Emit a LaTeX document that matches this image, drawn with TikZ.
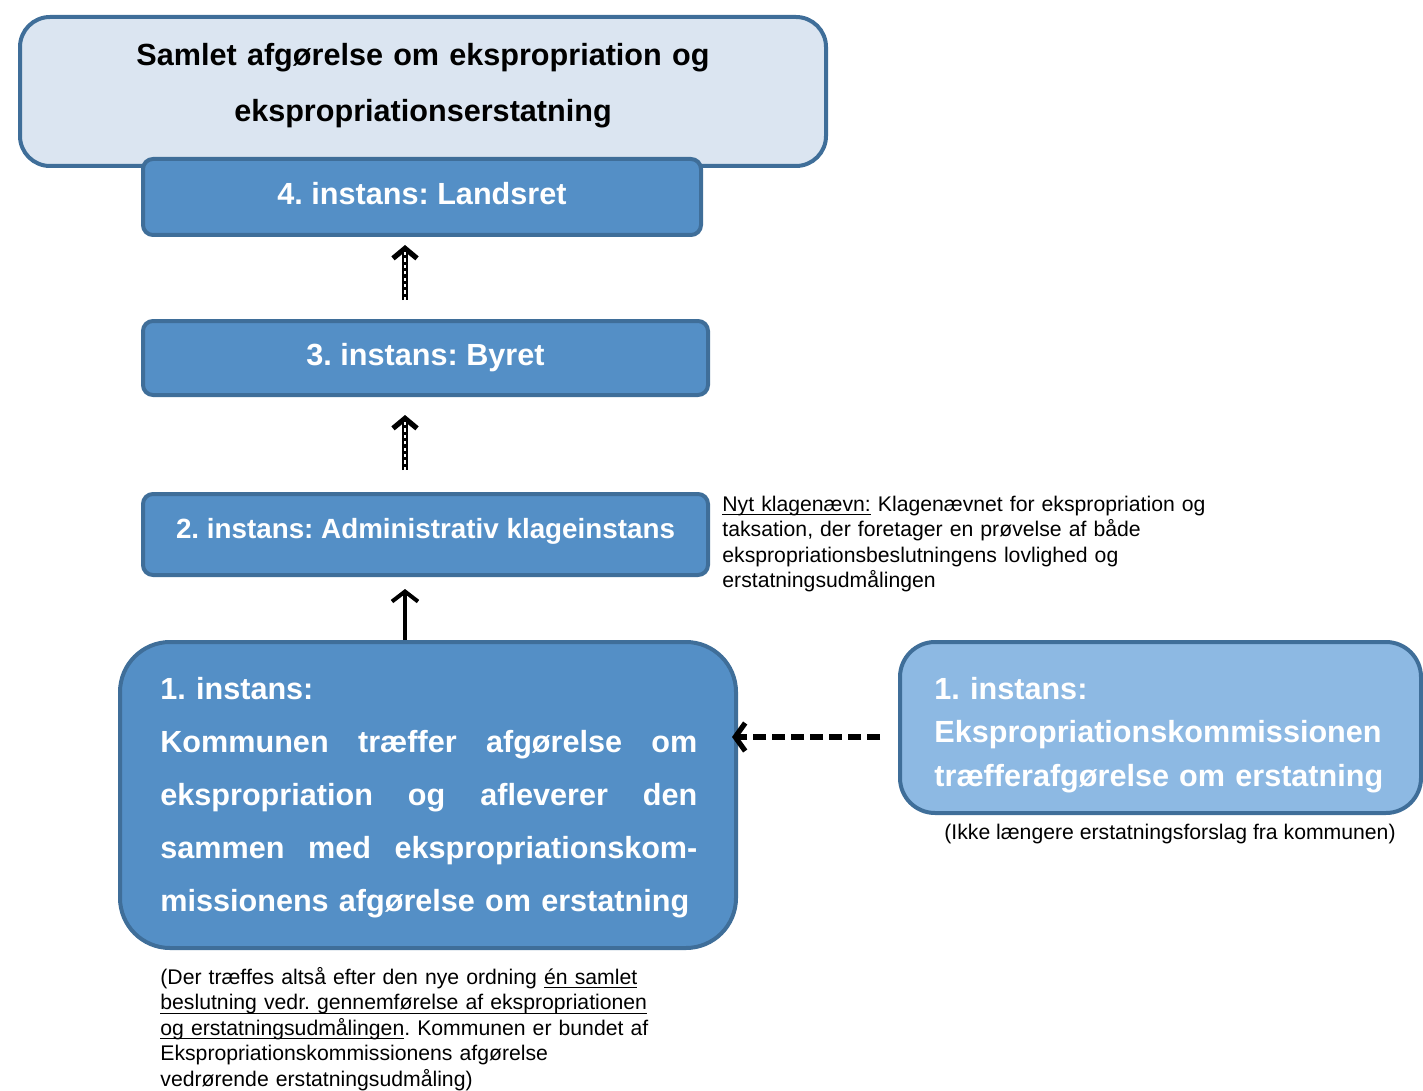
\documentclass[tikz,border=0pt]{standalone}
\usepackage{fontspec}
\setmainfont{Liberation Sans}
\frenchspacing
\usetikzlibrary{arrows.meta}
\definecolor{lightfill}{RGB}{219,229,241}
\definecolor{boxfill}{RGB}{84,143,198}
\definecolor{palefill}{RGB}{141,185,227}
\definecolor{boxline}{RGB}{63,110,153}
\newcommand\strek[1]{\leavevmode\setbox0\hbox{#1}\rlap{\rule[-2.2pt]{\wd0}{0.55pt}}\box0\relax}
\newcommand\fuldlinje[1]{\makebox[268.5pt][s]{\spaceskip=0.28em plus 1fil\relax #1}}
\tikzset{
  instbox/.style={draw=boxline, line width=2pt, fill=boxfill, rounded corners=5pt,
    text=white, font=\bfseries\fontsize{15.3}{18}\selectfont\frenchspacing},
  bigtext/.style={text width=#1, align=left, inner sep=0pt, anchor=base west},
  notetext/.style={bigtext=260pt, font=\fontsize{10.6}{12.75}\selectfont\frenchspacing},
  upto/.style={-{Straight Barb[length=5pt,width=13pt]}, line width=2pt},
  hollowup/.style={-{Straight Barb[length=5pt,width=12pt]}, line width=2.6pt},
  hollowdash/.style={white, line width=1.3pt, dash pattern=on 1.6pt off 1.6pt}
}
\begin{document}
\begin{tikzpicture}[x=0.5pt,y=-0.5pt]
  \useasboundingbox (0,0) rectangle (1423,1091);
  \path
    (423,91.5) node[instbox, fill=lightfill, rounded corners=15pt,
      minimum width=403pt, minimum height=74.5pt] (samlet) {}
    (422,197) node[instbox, text depth=4pt, minimum width=279pt, minimum height=38pt] (landsret) {4. instans: Landsret}
    (425.5,358) node[instbox, minimum width=282.5pt, minimum height=37pt] (byret) {3. instans: Byret}
    (425.5,534.5) node[instbox, font=\bfseries\fontsize{13.9}{16}\selectfont\frenchspacing, text depth=6.5pt,
      minimum width=282.5pt, minimum height=40.5pt] (klage) {2. instans: Administrativ klageinstans}
    (428,795) node[instbox, rounded corners=25pt, minimum width=308pt, minimum height=153pt] (kommune) {}
    (1160.5,727.5) node[instbox, fill=palefill, rounded corners=17.5pt, minimum width=260.5pt, minimum height=85.5pt] (kommission) {};
  \node[text width=400pt, align=center, inner sep=0pt, anchor=base,
    font=\bfseries\fontsize{15.3}{28}\selectfont] (titel) at (423,66)
    {Samlet afgørelse om ekspropriation og\\ekspropriationserstatning};
  \node[bigtext=280pt, text=white, font=\bfseries\fontsize{15.3}{26.5}\selectfont\frenchspacing] (kommunetekst) at (160,699)
    {1. instans:\\
     \fuldlinje{Kommunen træffer afgørelse om}\\
     \fuldlinje{ekspropriation og afleverer den}\\
     \fuldlinje{sammen med ekspropriationskom-}\\
     missionens afgørelse om erstatning};
  \node[bigtext=240pt, text=white, font=\bfseries\fontsize{15.3}{21.75}\selectfont\frenchspacing] (kommissiontekst) at (934,699)
    {1. instans:\\Ekspropriationskommissionen\\træfferafgørelse om erstatning};
  \node[notetext] (nytnote) at (722,511)
    {\strek{Nyt klagenævn:} Klagenævnet for ekspropriation og\\
     taksation, der foretager en prøvelse af både\\
     ekspropriationsbeslutningens lovlighed og\\
     erstatningsudmålingen};
  \node[anchor=base, inner sep=0pt, font=\fontsize{10.6}{12.75}\selectfont] (ikkenote) at (1170,839)
    {(Ikke længere erstatningsforslag fra kommunen)};
  \node[notetext] (ordningnote) at (160,984)
    {(Der træffes altså efter den nye ordning \strek{én samlet}\\
     \strek{beslutning vedr. gennemførelse af ekspropriationen}\\
     \strek{og erstatningsudmålingen}. Kommunen er bundet af\\
     Ekspropriationskommissionens afgørelse\\
     vedrørende erstatningsudmåling)};
  \coordinate (akse) at (405,0);
  \coordinate (vandret) at (0,737);
  \begin{scope}
    \draw[hollowup, shorten <=9.5pt, shorten >=4pt] (akse |- byret.north) -- (akse |- landsret.south);
    \draw[hollowdash, shorten <=9.5pt, shorten >=7pt] (akse |- byret.north) -- (akse |- landsret.south);
    \draw[hollowup, shorten <=11pt, shorten >=9pt] (akse |- klage.north) -- (akse |- byret.south);
    \draw[hollowdash, shorten <=11pt, shorten >=12pt] (akse |- klage.north) -- (akse |- byret.south);
    \draw[upto, shorten >=6pt] (akse |- kommune.north) -- (akse |- klage.south);
    \draw[-{Straight Barb[length=5pt,width=14pt]}, line width=2.6pt, dash pattern=on 6.5pt off 3pt,
      shorten <=9pt, shorten >=-3pt] (kommission.west |- vandret) -- (kommune.east |- vandret);
  \end{scope}
\end{tikzpicture}
\end{document}
